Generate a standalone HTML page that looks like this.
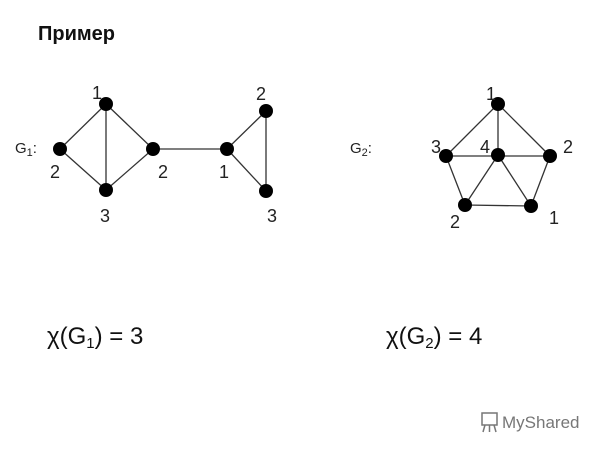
<!DOCTYPE html>
<html><head><meta charset="utf-8"><style>
html,body{margin:0;padding:0;background:#fff;width:600px;height:450px;overflow:hidden}
</style></head><body>
<svg width="600" height="450" xmlns="http://www.w3.org/2000/svg" style="position:absolute;left:0;top:0">
<text x="38" y="40" font-family="Liberation Sans, sans-serif" font-size="20" font-weight="bold" fill="#111">Пример</text>
<g stroke="#333" stroke-width="1.3" fill="none">
<line x1="106" y1="104" x2="60" y2="149"/><line x1="106" y1="104" x2="106" y2="190"/><line x1="106" y1="104" x2="153" y2="149"/>
<line x1="60" y1="149" x2="106" y2="190"/><line x1="153" y1="149" x2="106" y2="190"/><line x1="153" y1="149" x2="227" y2="149"/>
<line x1="227" y1="149" x2="266" y2="111"/><line x1="227" y1="149" x2="266" y2="191"/><line x1="266" y1="111" x2="266" y2="191"/>
<line x1="498" y1="104" x2="446" y2="156"/><line x1="498" y1="104" x2="498" y2="155"/><line x1="498" y1="104" x2="550" y2="156"/>
<line x1="446" y1="156" x2="550" y2="156"/><line x1="446" y1="156" x2="465" y2="205"/><line x1="550" y1="156" x2="531" y2="206"/>
<line x1="465" y1="205" x2="531" y2="206"/><line x1="498" y1="155" x2="465" y2="205"/><line x1="498" y1="155" x2="531" y2="206"/>
</g>
<g fill="#000">
<circle cx="106" cy="104" r="7"/><circle cx="60" cy="149" r="7"/><circle cx="106" cy="190" r="7"/><circle cx="153" cy="149" r="7"/>
<circle cx="227" cy="149" r="7"/><circle cx="266" cy="111" r="7"/><circle cx="266" cy="191" r="7"/>
<circle cx="498" cy="104" r="7"/><circle cx="446" cy="156" r="7"/><circle cx="498" cy="155" r="7"/><circle cx="550" cy="156" r="7"/>
<circle cx="465" cy="205" r="7"/><circle cx="531" cy="206" r="7"/>
</g>
<g font-family="Liberation Sans, sans-serif" font-size="18" fill="#222">
<text x="92" y="99">1</text><text x="50" y="178">2</text><text x="100" y="222">3</text><text x="158" y="178">2</text>
<text x="219" y="178">1</text><text x="256" y="100">2</text><text x="267" y="222">3</text>
<text x="15" y="153" font-size="15">G<tspan font-size="11" dy="3">1</tspan><tspan dy="-3">:</tspan></text>
<text x="486" y="100">1</text><text x="431" y="153">3</text><text x="480" y="153">4</text><text x="563" y="153">2</text>
<text x="450" y="228">2</text><text x="549" y="224">1</text>
<text x="350" y="153" font-size="15">G<tspan font-size="11" dy="3">2</tspan><tspan dy="-3">:</tspan></text>
</g>
<g font-family="Liberation Sans, sans-serif" font-size="24" fill="#111">
<text x="47" y="344">χ(G<tspan font-size="15" dy="4">1</tspan><tspan dy="-4">) = 3</tspan></text>
<text x="386" y="344">χ(G<tspan font-size="15" dy="4">2</tspan><tspan dy="-4">) = 4</tspan></text>
</g>
<g fill="none" stroke="#777" stroke-width="1.5">
<rect x="482" y="413" width="15" height="12"/><line x1="485" y1="425" x2="483" y2="432"/><line x1="494" y1="425" x2="496" y2="432"/><line x1="489.5" y1="425" x2="489.5" y2="432"/>
</g>
<text x="502" y="428" font-family="Liberation Sans, sans-serif" font-size="17" fill="#777">MyShared</text>
</svg>
</body></html>
